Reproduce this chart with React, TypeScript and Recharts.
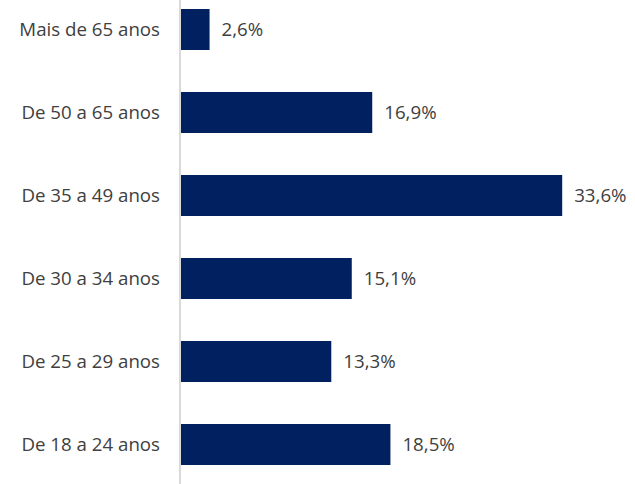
import React from "react";
import { BarChart, Bar, XAxis, YAxis, LabelList } from "recharts";

const categories = [
  "Mais de 65 anos",
  "De 50 a 65 anos",
  "De 35 a 49 anos",
  "De 30 a 34 anos",
  "De 25 a 29 anos",
  "De 18 a 24 anos",
];

const shares = [2.6, 16.9, 33.6, 15.1, 13.3, 18.5];

const data = categories.map((name, i) => ({ name, value: shares[i] }));

const FONT = "'Open Sans', sans-serif";
const TEXT = "#404040";

const formatPct = (v: any) => `${Number(v).toFixed(1).replace(".", ",")}%`;

export default function App() {
  return (
    <div style={{ position: "absolute", left: 0, top: -12, width: 635, height: 498 }}>
      <BarChart
        width={635}
        height={498}
        data={data}
        layout="vertical"
        margin={{ top: 0, right: 0, bottom: 0, left: 0 }}
      >
        <XAxis type="number" domain={[0, 40]} hide />
        <YAxis
          type="category"
          dataKey="name"
          width={180}
          axisLine={{ stroke: "#d9d9d9", strokeWidth: 2 }}
          tickLine={false}
          tickMargin={14}
          tick={{ fill: TEXT, fontSize: 18.7, fontFamily: FONT }}
          interval={0}
        />
        <Bar dataKey="value" fill="#002060" barSize={41} isAnimationActive={false}>
          <LabelList
            dataKey="value"
            position="right"
            offset={12}
            formatter={formatPct}
            style={{ fill: TEXT, fontSize: 18.7, fontFamily: FONT }}
          />
        </Bar>
      </BarChart>
    </div>
  );
}
